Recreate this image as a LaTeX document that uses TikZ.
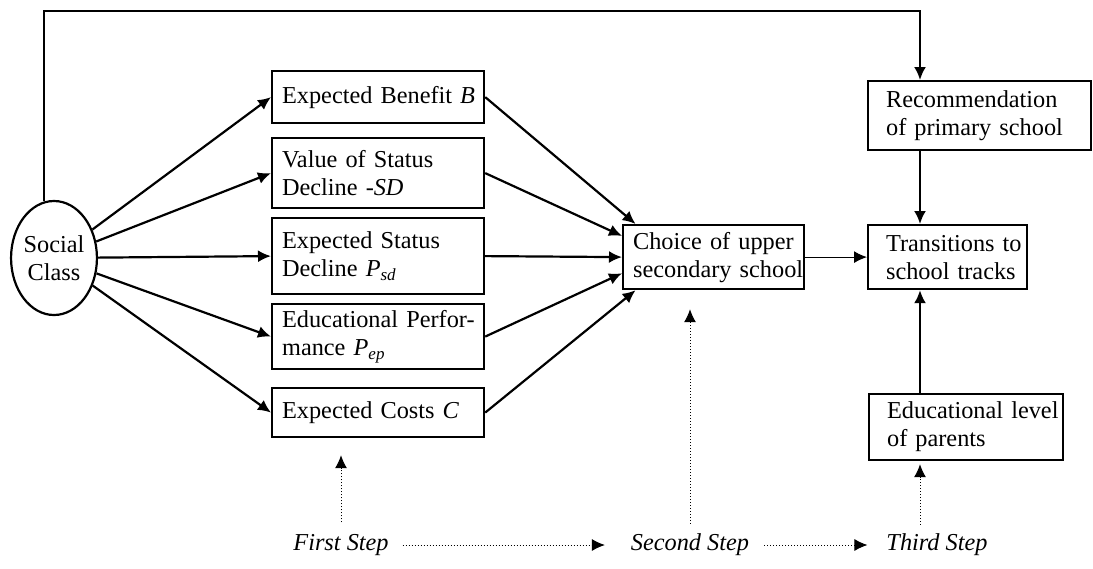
\documentclass[tikz,border=0pt]{standalone}
\usepackage{fontspec}
\setmainfont{Liberation Serif}
\usetikzlibrary{arrows.meta,calc,shapes.geometric}

\tikzset{
  stepbox/.style={draw, line width=1.1pt, align=left, anchor=north west, inner xsep=0pt, inner ysep=1pt},
  lpad/.style={execute at begin node={\leftskip=#1}},
  link/.style={->, line width=1.1pt},
  hint/.style={->, densely dotted, line width=0.5pt},
  steplabel/.style={font=\fontsize{12.15}{14}\selectfont\itshape},
}

\begin{document}
\begin{tikzpicture}[x=0.5pt, y=0.5pt, >={Latex[length=6.5pt,width=6pt]}, font=\fontsize{12.15}{14}\selectfont]

\useasboundingbox (0,0) rectangle (1093,-568);

\node[draw, ellipse, line width=1.1pt, minimum width=42.5pt, minimum height=57pt, inner sep=0pt, align=center] (social) at (54,-258) {Social\\Class};

\node[stepbox, lpad=5pt, text width=106pt, minimum height=26pt] (benefit) at (271,-70) {Expected Benefit \textit{B}};
\node[stepbox, lpad=5pt, text width=106pt, minimum height=35pt] (value) at (271,-137) {Value of Status\\Decline -\textit{SD}};
\node[stepbox, lpad=5pt, text width=106pt, minimum height=38pt] (psd) at (271,-217) {Expected Status\\Decline \textit{P}\textsubscript{\textit{sd}}};
\node[stepbox, lpad=5pt, text width=106pt, minimum height=32.5pt] (perf) at (271,-303) {Educational Perfor-\\mance \textit{P}\textsubscript{\textit{ep}}};
\node[stepbox, lpad=5pt, text width=106pt, minimum height=24.5pt] (costs) at (271,-387) {Expected Costs \textit{C}};

\node[stepbox, lpad=5pt, text width=90.5pt, minimum height=32pt] (choice) at (622,-224) {Choice of upper\\secondary school};

\node[stepbox, lpad=9pt, text width=111.5pt, minimum height=34.5pt] (rec) at (867,-80) {Recommendation\\of primary school};
\node[stepbox, lpad=9pt, text width=79.5pt, minimum height=32pt] (trans) at (867,-224) {Transitions to\\school tracks};
\node[stepbox, lpad=9pt, text width=97pt, minimum height=33pt] (edu) at (868,-393) {Educational level\\of parents};

\node[steplabel] (first) at (341,-545) {First Step};
\node[steplabel] (second) at (690,-545) {Second Step};
\node[steplabel] (third) at (937,-545) {Third Step};

\coordinate (col) at (920,-11);

\foreach \b in {benefit,value,psd,perf,costs}
{
    \draw[link] (social) -- (\b.west);
}

\foreach \b/\a in {benefit/157,value/167,psd/180,perf/190,costs/203}
{
    \draw[link] (\b.east) -- (choice.\a);
}

\draw[link] (social.100) |- (col) -- (col |- rec.north);
\draw[link] (rec.south -| col) -- (trans.north -| col);
\draw[link] (edu.north -| col) -- (trans.south -| col);
\draw[->, line width=0.6pt] (choice.east) -- (trans.west);

\draw[hint, shorten <=2.5pt, shorten >=8.5pt] (first.north) -- (costs.south -| first.north);
\draw[hint, shorten <=1.5pt, shorten >=9.5pt] (second.north) -- (choice.south -| second.north);
\draw[hint, shorten <=1pt, shorten >=1.5pt] (third.north -| col) -- (edu.south -| col);

\draw[hint, shorten <=3.5pt, shorten >=9.5pt] (first.east) -- (second.west);
\draw[hint, shorten <=4pt, shorten >=6pt] (second.east) -- (third.west);

\end{tikzpicture}
\end{document}
